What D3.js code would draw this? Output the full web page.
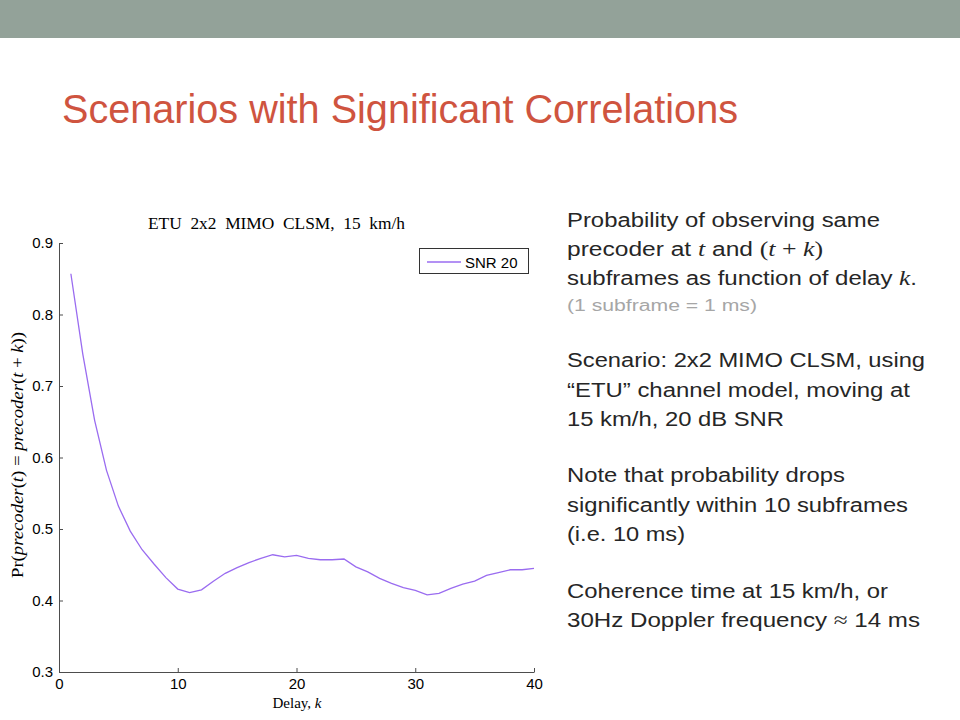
<!DOCTYPE html>
<html>
<head>
<meta charset="utf-8">
<script src="https://cdn.jsdelivr.net/npm/d3@7"></script>
<style>
  body { margin: 0; background: #fff; }
  svg { display: block; }
</style>
</head>
<body>
<svg id="slide" width="960" height="720"></svg>
<script>
// delay k (subframes) and Pr(precoder(t) = precoder(t+k)), SNR 20 dB
const delays = d3.range(1, 41);
const snr20 = [
  0.857, 0.745, 0.652, 0.582, 0.532, 0.497, 0.471, 0.451, 0.432, 0.416,
  0.411, 0.415, 0.427, 0.438, 0.446, 0.453, 0.459, 0.464, 0.461, 0.463,
  0.459, 0.457, 0.457, 0.458, 0.447, 0.440, 0.431, 0.424, 0.418, 0.414,
  0.408, 0.410, 0.417, 0.423, 0.427, 0.435, 0.439, 0.443, 0.443, 0.445
];
const xTicks = [0, 10, 20, 30, 40];
const yTicks = [0.3, 0.4, 0.5, 0.6, 0.7, 0.8, 0.9];
const seriesName = 'SNR 20';

const svg = d3.select('#slide');
const serif = '"Liberation Serif", "DejaVu Serif", serif';
const sans = '"Liberation Sans", Arial, sans-serif';

// slide chrome
svg.append('rect').attr('x', 0).attr('y', 0).attr('width', 960).attr('height', 38).attr('fill', '#93a299');
svg.append('text')
  .attr('x', 62).attr('y', 123)
  .attr('textLength', 676).attr('lengthAdjust', 'spacingAndGlyphs')
  .style('font-family', '"Liberation Sans Narrow", "Liberation Sans", Arial, sans-serif')
  .style('font-size', '40px')
  .attr('fill', '#cf543f')
  .text('Scenarios with Significant Correlations');

// chart
const x = d3.scaleLinear().domain([0, 40]).range([59, 534]);
const y = d3.scaleLinear().domain([0.3, 0.9]).range([672, 243]);

const axisColor = '#4d4d4d';

const gx = svg.append('g').attr('transform', 'translate(0,672)')
  .call(d3.axisBottom(x).tickValues(xTicks).tickSizeInner(-4).tickSizeOuter(0).tickPadding(3));
const gy = svg.append('g').attr('transform', 'translate(59,0)')
  .call(d3.axisLeft(y).tickValues(yTicks).tickFormat(d3.format('.1f')).tickSizeInner(-4).tickSizeOuter(0).tickPadding(6));

[gx, gy].forEach(g => {
  g.select('.domain').attr('stroke', axisColor);
  g.selectAll('.tick line').attr('stroke', axisColor);
  g.selectAll('.tick text')
    .attr('fill', '#000')
    .style('font-family', sans)
    .style('font-size', '15px');
});
gx.selectAll('.tick text').attr('dy', '0.95em');

const line = d3.line()
  .x((d, i) => x(delays[i]))
  .y(d => y(d));

svg.append('path')
  .datum(snr20)
  .attr('fill', 'none')
  .attr('stroke', '#9a6cf0')
  .attr('stroke-width', 1.3)
  .attr('d', line);

// chart title (LaTeX-style wide word gaps)
svg.append('text')
  .attr('x', 148).attr('y', 229)
  .attr('textLength', 257).attr('lengthAdjust', 'spacingAndGlyphs')
  .style('font-family', serif)
  .style('font-size', '16px')
  .style('word-spacing', '4px')
  .attr('fill', '#000')
  .text('ETU 2x2 MIMO CLSM, 15 km/h');

// x label
const xl = svg.append('text')
  .attr('x', 297).attr('y', 708)
  .attr('text-anchor', 'middle')
  .style('font-family', serif)
  .style('font-size', '15px')
  .attr('fill', '#000');
xl.append('tspan').text('Delay, ');
xl.append('tspan').style('font-style', 'italic').text('k');

// y label
const yl = svg.append('text')
  .attr('transform', 'translate(23,455) rotate(-90)')
  .attr('x', -123)
  .attr('textLength', 246).attr('lengthAdjust', 'spacingAndGlyphs')
  .style('font-family', serif)
  .style('font-size', '16px')
  .attr('fill', '#000');
[['Pr(', false], ['precoder', true], ['(', false], ['t', true], [') = ', false],
 ['precoder', true], ['(', false], ['t', true], [' + ', false], ['k', true], ['))', false]]
  .forEach(([s, it]) => yl.append('tspan').style('font-style', it ? 'italic' : 'normal').text(s));

// legend
const lg = svg.append('g');
lg.append('rect').attr('x', 419.5).attr('y', 248.5).attr('width', 109).attr('height', 25)
  .attr('fill', '#fff').attr('stroke', '#333').attr('stroke-width', 1);
lg.append('line').attr('x1', 427).attr('x2', 461).attr('y1', 262).attr('y2', 262)
  .attr('stroke', '#9a6cf0').attr('stroke-width', 1.3);
lg.append('text').attr('x', 465).attr('y', 267.5)
  .style('font-family', sans)
  .style('font-size', '15px')
  .attr('fill', '#000')
  .text(seriesName);

// right-hand notes (w = rendered width of the line in the slide)
const notes = [
  { y: 227, w: 313, parts: [['Probability of observing same']] },
  { y: 256, w: 256, parts: [['precoder at '], ['t', 'm'], [' and '], ['(', 'r'], ['t', 'm'], [' + ', 'r'], ['k', 'm'], [')', 'r']] },
  { y: 285, w: 350, parts: [['subframes as function of delay '], ['k', 'm'], ['.']] },
  { y: 311, w: 190, parts: [['(1 subframe = 1 ms)']], small: true },
  { y: 367, w: 358, parts: [['Scenario: 2x2 MIMO CLSM, using']] },
  { y: 397, w: 343, parts: [['\u201CETU\u201D channel model, moving at']] },
  { y: 426, w: 217, parts: [['15 km/h, 20 dB SNR']] },
  { y: 482, w: 278, parts: [['Note that probability drops']] },
  { y: 512, w: 341, parts: [['significantly within 10 subframes']] },
  { y: 541, w: 118, parts: [['(i.e. 10 ms)']] },
  { y: 598, w: 321, parts: [['Coherence time at 15 km/h, or']] },
  { y: 627, w: 353, parts: [['30Hz Doppler frequency '], ['\u2248', 'r'], [' 14 ms']] }
];
notes.forEach(n => {
  const t = svg.append('text')
    .attr('x', 567).attr('y', n.y)
    .attr('xml:space', 'preserve')
    .attr('textLength', n.w).attr('lengthAdjust', 'spacingAndGlyphs')
    .style('font-family', sans)
    .style('font-size', n.small ? '16px' : '20px')
    .attr('fill', n.small ? '#a6a6a6' : '#262626');
  n.parts.forEach(([s, kind]) => {
    const sp = t.append('tspan').text(s);
    if (kind === 'm' || kind === 'r') {
      sp.style('font-family', serif).style('font-size', '21px');
      if (kind === 'm') sp.style('font-style', 'italic');
    }
  });
});
</script>
</body>
</html>
